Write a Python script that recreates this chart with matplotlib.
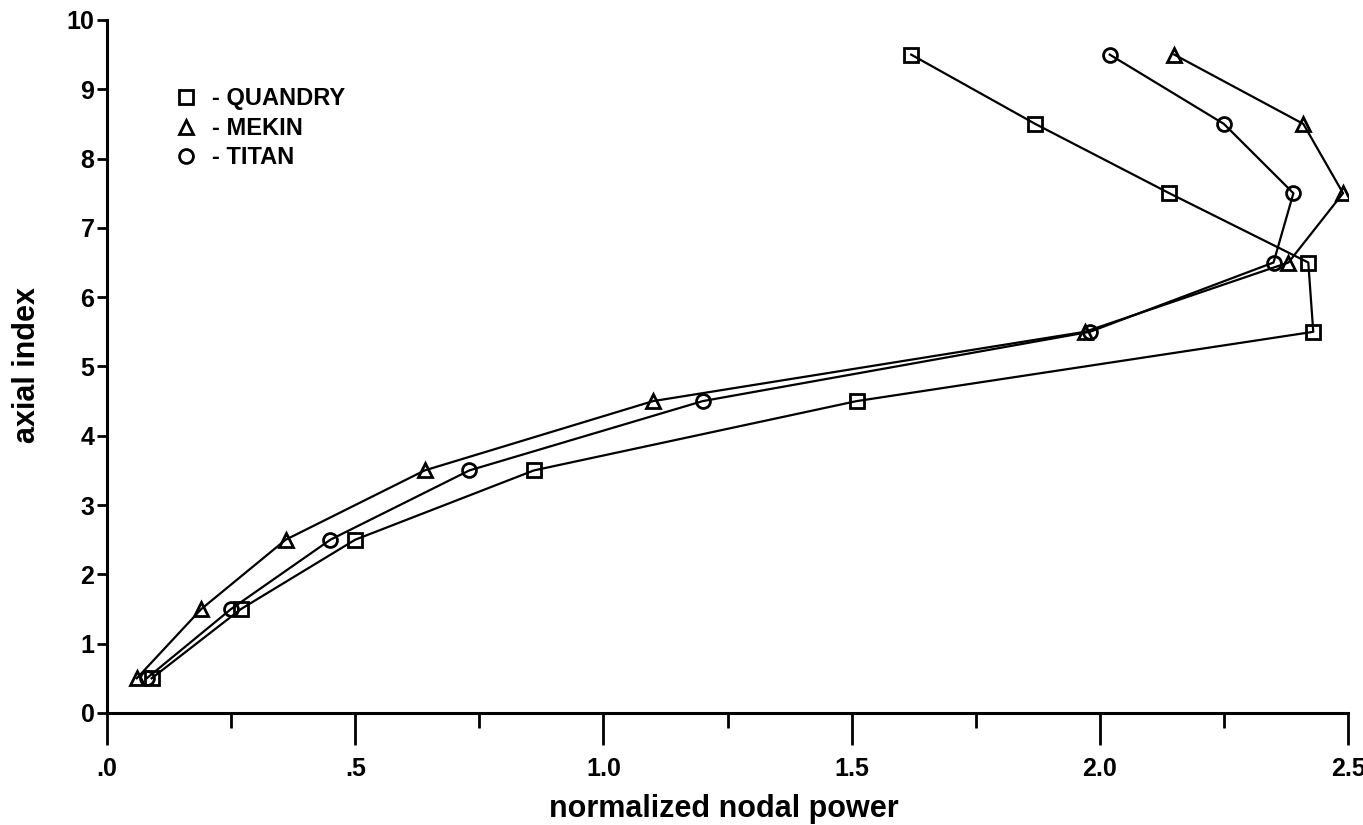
import numpy as np
from matplotlib import pyplot as plt
from matplotlib.lines import Line2D
from matplotlib.ticker import MultipleLocator, FixedLocator

plt.rcParams['font.family'] = ['Liberation Sans', 'DejaVu Sans']
plt.rcParams['font.weight'] = 'bold'

# axial index (node centres)
axial = [0.5, 1.5, 2.5, 3.5, 4.5, 5.5, 6.5, 7.5, 8.5, 9.5]

# normalized nodal power
quandry = [0.09, 0.27, 0.50, 0.86, 1.51, 2.43, 2.42, 2.14, 1.87, 1.62]
mekin = [0.06, 0.19, 0.36, 0.64, 1.10, 1.97, 2.38, 2.49, 2.41, 2.15]
titan = [0.08, 0.25, 0.45, 0.73, 1.20, 1.98, 2.35, 2.39, 2.25, 2.02]

x_ticks = [0.0, 0.5, 1.0, 1.5, 2.0, 2.5]
x_ticklabels = [".0", ".5", "1.0", "1.5", "2.0", "2.5"]
y_ticks = list(range(0, 11))

series = [("- QUANDRY", quandry, "s"),
          ("- MEKIN", mekin, "^"),
          ("- TITAN", titan, "o")]

fig = plt.figure(figsize=(13.63, 8.25), dpi=100)
ax = fig.add_axes([0.0785, 0.1358, 0.9105, 0.84])

handles = []
for name, vals, mk in series:
    ax.plot(vals, axial, color='black', lw=1.6, marker=mk, markersize=10,
            markerfacecolor='none', markeredgecolor='black', markeredgewidth=2)
    handles.append(Line2D([], [], ls='none', marker=mk, markersize=10,
                          markerfacecolor='none', markeredgecolor='black',
                          markeredgewidth=2, label=name))

ax.set_xlim(0, 2.5)
ax.set_ylim(0, 10)
ax.spines['top'].set_visible(False)
ax.spines['right'].set_visible(False)
ax.spines['left'].set_linewidth(2.2)
ax.spines['bottom'].set_linewidth(2.2)

ax.xaxis.set_major_locator(FixedLocator(x_ticks))
ax.set_xticklabels(x_ticklabels)
ax.xaxis.set_minor_locator(MultipleLocator(0.25))
ax.set_yticks(y_ticks)
ax.tick_params(axis='x', which='major', direction='out', length=23, width=2,
               pad=9, labelsize=18)
ax.tick_params(axis='x', which='minor', direction='out', length=11, width=2)
ax.tick_params(axis='y', which='major', direction='out', length=7, width=2,
               pad=2, labelsize=18)

ax.set_xlabel("normalized nodal power", fontsize=22, fontweight='bold')
ax.set_ylabel("axial index", fontsize=22, fontweight='bold')
ax.xaxis.set_label_coords(0.497, -0.117)
ax.yaxis.set_label_coords(-0.052, 0.502)

ax.legend(handles=handles, loc='upper left', bbox_to_anchor=(0.045, 0.92),
          frameon=False, fontsize=17, handlelength=1.0, handletextpad=0.6,
          labelspacing=0.28, borderpad=0)

plt.savefig("out.png", dpi=100)
